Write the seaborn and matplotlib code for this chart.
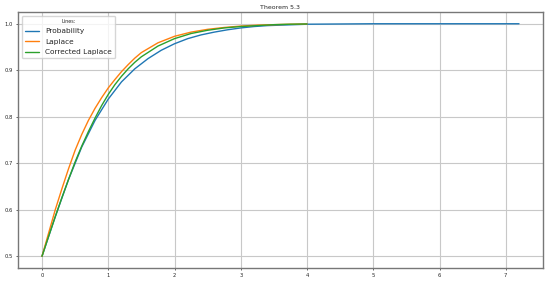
import pandas as pd
import matplotlib
matplotlib.use("Agg")
import matplotlib.pyplot as plt
import seaborn as sns

# values
prob_x = [0, 0.2, 0.4, 0.6, 0.8, 1.0, 1.2, 1.4, 1.6, 1.8, 2.0, 2.2, 2.4, 2.6, 2.8,
          3.0, 3.2, 3.4, 3.6, 3.8, 4.0, 5.0, 6.0, 7.2]
prob_y = [0.5, 0.585, 0.665, 0.735, 0.792, 0.838, 0.875, 0.903, 0.925, 0.943, 0.957,
          0.968, 0.976, 0.982, 0.987, 0.991, 0.994, 0.996, 0.997, 0.998, 0.999, 1.0, 1.0, 1.0]

lap_x = [0, 0.1, 0.2, 0.3, 0.4, 0.5, 0.6, 0.7, 0.8, 0.9, 1.0, 1.1, 1.2, 1.3, 1.4, 1.5,
         1.75, 2.0, 2.25, 2.5, 2.75, 3.0, 3.25, 3.5, 3.75, 4.0]
lap_y = [0.5, 0.55, 0.6, 0.645, 0.688, 0.728, 0.762, 0.792, 0.818, 0.841, 0.862, 0.880,
         0.897, 0.912, 0.926, 0.938, 0.959, 0.973, 0.982, 0.988, 0.992, 0.995, 0.997,
         0.998, 0.999, 0.9995]
corr_y = [0.5, 0.543, 0.585, 0.626, 0.665, 0.703, 0.737, 0.768, 0.797, 0.824, 0.848,
          0.869, 0.887, 0.903, 0.917, 0.929, 0.952, 0.968, 0.979, 0.986, 0.991, 0.994,
          0.996, 0.998, 0.999, 0.9995]

labels = ["Probability", "Laplace", "Corrected Laplace"]

df = pd.concat([
    pd.DataFrame({"x": prob_x, "y": prob_y, "line": labels[0]}),
    pd.DataFrame({"x": lap_x, "y": lap_y, "line": labels[1]}),
    pd.DataFrame({"x": lap_x, "y": corr_y, "line": labels[2]}),
])

sns.set_style("white")
fig = plt.figure(figsize=(5.5, 2.82), dpi=100)
ax = fig.add_axes([0.033, 0.05, 0.954, 0.907])

sns.lineplot(data=df, x="x", y="y", hue="line", palette="tab10", linewidth=1.0,
             estimator=None, sort=False, ax=ax)

ax.grid(True, color="#c8c8c8", linewidth=0.8)
ax.set_xlabel("")
ax.set_ylabel("")
ax.set_title("Theorem 5.3", fontsize=4.5, pad=2)
ax.tick_params(labelsize=3.8, length=1.5, width=0.5, pad=2, left=True, bottom=True)
ax.set_yticks([0.5, 0.6, 0.7, 0.8, 0.9, 1.0])
for s in ax.spines.values():
    s.set_color("#777777")
    s.set_linewidth(1.0)

ax.legend(title="Lines:", fontsize=5.3, title_fontsize=3.5, loc="upper left",
          handlelength=2.0, borderpad=0.4, labelspacing=0.6, frameon=True)

fig.savefig("out.png", dpi=100)
